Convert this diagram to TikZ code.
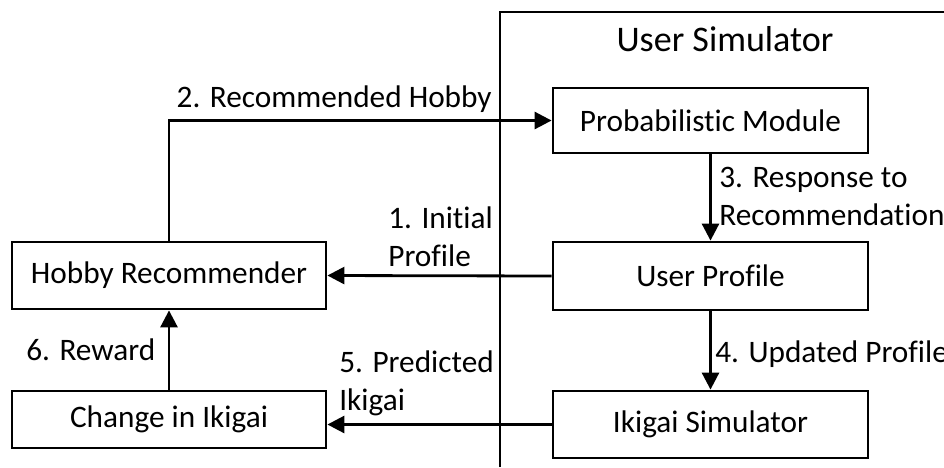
\documentclass[tikz,border=0pt]{standalone}
\usepackage{fontspec}
\setmainfont[Ligatures=NoCommon]{Carlito}
\definecolor{ink}{RGB}{0,0,0}
\usepackage{tikz}
\usetikzlibrary{arrows.meta,positioning,calc}
\tikzset{
  block/.style={draw=ink, line width=1.6pt, fill=white, inner sep=2pt,
              minimum width=6.3cm, minimum height=1.34cm, align=center, text=ink},
  frame/.style={draw=ink, line width=1.4pt},
  flow/.style={-{Triangle[length=3.4mm, width=3.4mm]}, ink, line width=1.6pt},
}
\begin{document}
\begin{tikzpicture}[font=\fontsize{17.8pt}{21.6pt}\selectfont,
          lbl/.style={inner sep=0pt, align=left, text=ink}]
        \useasboundingbox[fill=white] (0,0) rectangle (18.88,-9.34);
        \draw[frame] (10.0,-9.34) |- (18.88,-0.24);
        \node[anchor=base, text=ink, font=\fontsize{20.5pt}{24pt}\selectfont] (simtitle) at (14.5,-1.02) {User Simulator};
        \node[block, minimum height=1.30cm] (pm) at (14.21,-2.41) {Probabilistic Module};
        \node[block, minimum height=1.36cm] (up) at (14.21,-5.52) {User Profile};
        \node[block] (is) at (14.21,-8.49) {Ikigai Simulator};
        \node[block, minimum width=6.28cm] (hr) at (3.38,-5.51) {Hobby Recommender};
        \node[block, minimum width=6.28cm, minimum height=1.14cm] (ci) at (3.38,-8.39) {Change in Ikigai};
        \draw[flow] (up.west) -- (hr.east);
        \draw[flow] (hr.north) |- (pm.west);
        \draw[flow] (pm.south) -- (up.north);
        \draw[flow] (up.south) -- (is.north);
        \draw[flow] (is.west) -- (is.west -| ci.east);
        \draw[flow] (ci.north) -- (hr.south);
        \node[lbl, anchor=base west] (l1) at (7.76,-5.32) {1. Initial\\Profile};
        \node[lbl, anchor=base east] (l2) at (9.84,-2.14) {2. Recommended Hobby};
        \node[lbl, anchor=base west] (l3) at (14.38,-4.50) {3. Response to\\Recommendation};
        \node[lbl, anchor=base west] (l4) at (14.30,-7.24) {4. Updated Profile};
        \node[lbl, anchor=base west] (l5) at (6.78,-8.20) {5. Predicted\\Ikigai};
        \node[lbl, anchor=base west] (l6) at (0.52,-7.20) {6. Reward};
      \end{tikzpicture}
\end{document}
